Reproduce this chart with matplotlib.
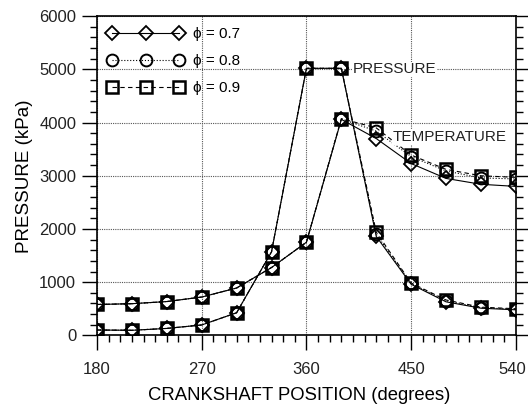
import matplotlib
matplotlib.use("Agg")
import matplotlib.pyplot as plt
from matplotlib.ticker import MultipleLocator
from matplotlib.transforms import ScaledTranslation

plt.rcParams['font.family'] = ['Liberation Sans', 'DejaVu Sans']

crank = [180, 210, 240, 270, 300, 330, 360, 390, 420, 450, 480, 510, 540]

pressure_07 = [100, 95, 130, 195, 425, 1570, 5020, 5020, 1860, 960, 630, 510, 480]
pressure_08 = [100, 95, 130, 195, 425, 1570, 5020, 5020, 1900, 975, 650, 520, 490]
pressure_09 = [100, 95, 130, 195, 425, 1570, 5020, 5020, 1940, 985, 665, 530, 500]

temperature_07 = [580, 595, 635, 720, 890, 1275, 1750, 4060, 3700, 3230, 2950, 2840, 2800]
temperature_08 = [580, 595, 635, 720, 890, 1275, 1750, 4070, 3840, 3360, 3090, 2960, 2940]
temperature_09 = [580, 595, 635, 720, 890, 1275, 1750, 4075, 3900, 3390, 3120, 3000, 2970]

labels = ['\u03d5 = 0.7', '\u03d5 = 0.8', '\u03d5 = 0.9']

fig = plt.figure(figsize=(5.28, 4.05), dpi=100)
ax = fig.add_axes([0.1837, 0.172, 0.7933, 0.788])

styles = [('-', 'D', 7, 1.3), (':', 'o', 8.5, 1.4), ((0, (4, 3)), 's', 8.5, 1.8)]
series = [(pressure_07, temperature_07), (pressure_08, temperature_08), (pressure_09, temperature_09)]

for (p, t), (ls, mk, ms, mew), lab in zip(series, styles, labels):
    ax.plot(crank, p, linestyle=ls, color='black', lw=0.8, marker=mk, ms=ms,
            mfc='none', mec='black', mew=mew, label=lab, zorder=3)
    ax.plot(crank, t, linestyle=ls, color='black', lw=0.8, marker=mk, ms=ms,
            mfc='none', mec='black', mew=mew, zorder=3)

ax.set_xlim(180, 540)
ax.set_ylim(0, 6000)
ax.xaxis.set_major_locator(MultipleLocator(90))
ax.xaxis.set_minor_locator(MultipleLocator(10))
ax.yaxis.set_major_locator(MultipleLocator(1000))
ax.yaxis.set_minor_locator(MultipleLocator(200))

ax.tick_params(axis='both', which='major', direction='out', length=11, width=1,
               labelsize=12, color='black', labelcolor='#222222')
ax.tick_params(axis='both', which='minor', direction='out', length=5, width=1)
ax.tick_params(axis='x', which='major', pad=8)
ax.tick_params(axis='y', which='major', pad=4)
ax.tick_params(axis='y', which='major', right=True, length=11)
ax.tick_params(axis='y', which='minor', right=True, length=5)

for s in ax.spines.values():
    s.set_linewidth(1.2)

ax.grid(True, which='major', linestyle=(0, (1, 1)), color='#555555', lw=0.8)

ax.set_xlabel('CRANKSHAFT POSITION (degrees)', fontsize=13.3)
ax.xaxis.set_label_coords(0.483, -0.163)
ax.set_ylabel('PRESSURE (kPa)', fontsize=13.5, labelpad=4)

ax.text(400, 5000, 'PRESSURE', fontsize=11, va='center', ha='left', color='#222222',
        bbox=dict(facecolor='white', edgecolor='none', pad=0.5))
ax.text(434, 3730, 'TEMPERATURE', fontsize=11, va='center', ha='left', color='#222222',
        bbox=dict(facecolor='white', edgecolor='none', pad=0.5))

leg = ax.legend(loc='upper left', frameon=False, numpoints=3, handlelength=5.0,
                fontsize=11, borderaxespad=0.3, handletextpad=0.6, labelspacing=0.85,
                bbox_to_anchor=(0.0, 1.0))

fig.canvas.draw()
for lbl in ax.get_xticklabels():
    if lbl.get_text() == '540':
        lbl.set_transform(lbl.get_transform() + ScaledTranslation(-0.04, 0, fig.dpi_scale_trans))

fig.savefig('out.png', dpi=100)
